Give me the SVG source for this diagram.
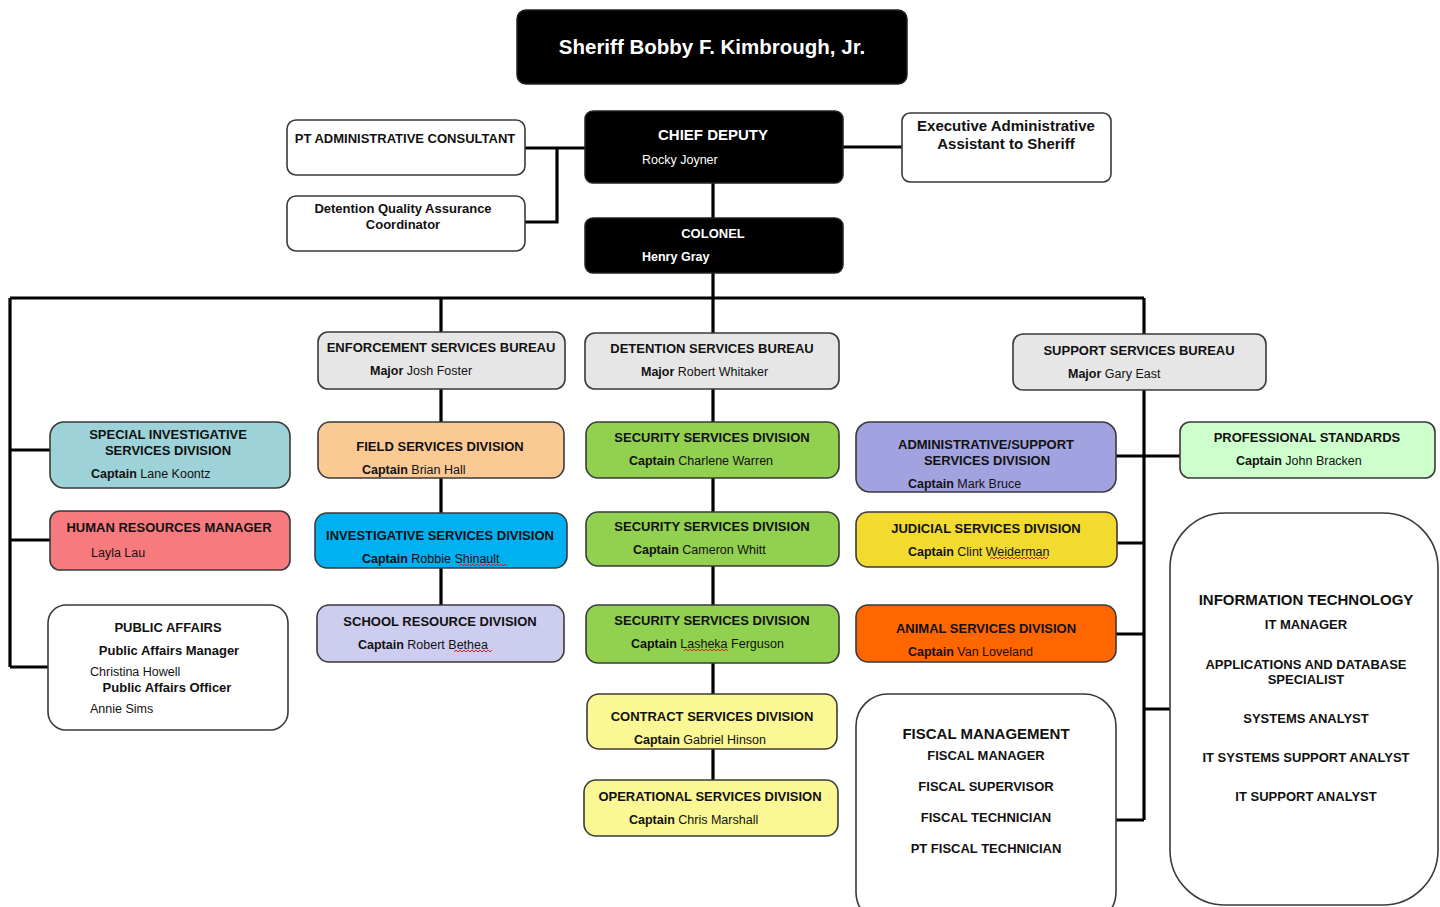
<svg xmlns="http://www.w3.org/2000/svg" width="1440" height="907" viewBox="0 0 1440 907">
<style>
text{font-family:"Liberation Sans",Arial,sans-serif;fill:#111}
.t{font-weight:bold;font-size:13px;text-anchor:middle}
.big{font-size:15px}
.n{font-size:12.5px}
.b{font-weight:bold}
.w{fill:#fff}
.box{stroke:#3a3a3a;stroke-width:1.6}
.blk{fill:#000;stroke:#222;stroke-width:1.5}
.wire{fill:none;stroke:#000;stroke-width:3.2}
.sq{fill:none;stroke:#e02020;stroke-width:1}
</style>
<g id="connectors" class="wire">
<path d="M525 148H585M557 148V222H525"/>
<path d="M843 147H902"/>
<path d="M713 183V218"/>
<path d="M713 273V298"/>
<path d="M10 298H1144"/>
<path d="M10 298V667M10 450H50M10 540H50M10 667H48"/>
<path d="M441 298V332M441 389V422M441 478V513M441 568V605"/>
<path d="M713 298V333M713 389V422M713 478V512M713 566V605M713 663V694M713 749V780"/>
<path d="M1144 298V334M1144 390V820"/>
<path d="M1116 456H1180M1117 543H1144M1116 634H1144M1144 709H1170M1116 820H1144"/>
</g>
<g id="sheriff"><rect x="517" y="10" width="390" height="74" rx="9" class="blk"/><text x="712" y="54" class="b w" font-size="20.5" text-anchor="middle">Sheriff Bobby F. Kimbrough, Jr.</text></g>
<g id="chief-deputy"><rect x="585" y="111" width="258" height="72" rx="8" class="blk"/><text x="713" y="140" class="t big w">CHIEF DEPUTY</text><text x="642" y="164" class="n w">Rocky Joyner</text></g>
<g id="pt-admin"><rect x="287" y="120" width="238" height="55" rx="9" fill="#fff" class="box"/><text x="405" y="143" class="t">PT ADMINISTRATIVE CONSULTANT</text></g>
<g id="dqa"><rect x="287" y="196" width="238" height="55" rx="9" fill="#fff" class="box"/><text x="403" y="213" class="t">Detention Quality Assurance</text><text x="403" y="229" class="t">Coordinator</text></g>
<g id="exec-admin"><rect x="902" y="113" width="209" height="69" rx="8" fill="#fff" class="box"/><text x="1006" y="131" class="t big">Executive Administrative</text><text x="1006" y="149" class="t big">Assistant to Sheriff</text></g>
<g id="colonel"><rect x="585" y="218" width="258" height="55" rx="8" class="blk"/><text x="713" y="238" class="t w">COLONEL</text><text x="642" y="261" class="n b w">Henry Gray</text></g>

<g id="enforcement"><rect x="318" y="332" width="247" height="57" rx="10" fill="#e6e6e6" class="box"/><text x="441" y="352" class="t">ENFORCEMENT SERVICES BUREAU</text><text x="370" y="375" class="n"><tspan class="b">Major</tspan> Josh Foster</text></g>
<g id="detention"><rect x="585" y="333" width="254" height="56" rx="10" fill="#e6e6e6" class="box"/><text x="712" y="353" class="t">DETENTION SERVICES BUREAU</text><text x="641" y="376" class="n"><tspan class="b">Major</tspan> Robert Whitaker</text></g>
<g id="support"><rect x="1013" y="334" width="253" height="56" rx="10" fill="#e6e6e6" class="box"/><text x="1139" y="355" class="t">SUPPORT SERVICES BUREAU</text><text x="1068" y="378" class="n"><tspan class="b">Major</tspan> Gary East</text></g>

<g id="special-inv"><rect x="50" y="422" width="240" height="66" rx="14" fill="#9dd2d8" class="box"/><text x="168" y="439" class="t">SPECIAL INVESTIGATIVE</text><text x="168" y="455" class="t">SERVICES DIVISION</text><text x="91" y="478" class="n"><tspan class="b">Captain</tspan> Lane Koontz</text></g>
<g id="hr"><rect x="50" y="511" width="240" height="59" rx="10" fill="#f77b7e" class="box"/><text x="169" y="532" class="t">HUMAN RESOURCES MANAGER</text><text x="91" y="557" class="n">Layla Lau</text></g>
<g id="public-affairs"><rect x="48" y="605" width="240" height="125" rx="18" fill="#fff" class="box"/><text x="168" y="632" class="t">PUBLIC AFFAIRS</text><text x="169" y="655" class="t">Public Affairs Manager</text><text x="90" y="676" class="n">Christina Howell</text><text x="167" y="692" class="t">Public Affairs Officer</text><text x="90" y="713" class="n">Annie Sims</text></g>

<g id="field"><rect x="318" y="422" width="246" height="56" rx="12" fill="#fbc994" class="box"/><text x="440" y="451" class="t">FIELD SERVICES DIVISION</text><text x="362" y="474" class="n"><tspan class="b">Captain</tspan> Brian Hall</text></g>
<g id="investigative"><rect x="315" y="513" width="252" height="55" rx="12" fill="#00b0f0" class="box"/><text x="440" y="540" class="t">INVESTIGATIVE SERVICES DIVISION</text><text x="362" y="563" class="n"><tspan class="b">Captain</tspan> Robbie Shinault</text><path class="sq" d="M459 566l2-2 2 2 2-2 2 2 2-2 2 2 2-2 2 2 2-2 2 2 2-2 2 2 2-2 2 2 2-2 2 2 2-2 2 2 2-2 2 2 2-2 2 2 2-2 2 2"/></g>
<g id="school"><rect x="317" y="605" width="247" height="57" rx="12" fill="#cdcdf0" class="box"/><text x="440" y="626" class="t">SCHOOL RESOURCE DIVISION</text><text x="358" y="649" class="n"><tspan class="b">Captain</tspan> Robert Bethea</text><path class="sq" d="M454 652l2-2 2 2 2-2 2 2 2-2 2 2 2-2 2 2 2-2 2 2 2-2 2 2 2-2 2 2 2-2 2 2 2-2 2 2 2-2"/></g>

<g id="security1"><rect x="586" y="422" width="253" height="56" rx="12" fill="#92d050" class="box"/><text x="712" y="442" class="t">SECURITY SERVICES DIVISION</text><text x="629" y="465" class="n"><tspan class="b">Captain</tspan> Charlene Warren</text></g>
<g id="security2"><rect x="586" y="512" width="253" height="54" rx="12" fill="#92d050" class="box"/><text x="712" y="531" class="t">SECURITY SERVICES DIVISION</text><text x="633" y="554" class="n"><tspan class="b">Captain</tspan> Cameron Whitt</text></g>
<g id="security3"><rect x="586" y="605" width="253" height="58" rx="12" fill="#92d050" class="box"/><text x="712" y="625" class="t">SECURITY SERVICES DIVISION</text><text x="631" y="648" class="n"><tspan class="b">Captain</tspan> Lasheka Ferguson</text><path class="sq" d="M684 651l2-2 2 2 2-2 2 2 2-2 2 2 2-2 2 2 2-2 2 2 2-2 2 2 2-2 2 2 2-2 2 2 2-2 2 2 2-2 2 2 2-2 2 2"/></g>
<g id="contract"><rect x="587" y="694" width="250" height="55" rx="12" fill="#fbf794" class="box"/><text x="712" y="721" class="t">CONTRACT SERVICES DIVISION</text><text x="634" y="744" class="n"><tspan class="b">Captain</tspan> Gabriel Hinson</text></g>
<g id="operational"><rect x="584" y="780" width="254" height="56" rx="12" fill="#fbf794" class="box"/><text x="710" y="801" class="t">OPERATIONAL SERVICES DIVISION</text><text x="629" y="824" class="n"><tspan class="b">Captain</tspan> Chris Marshall</text></g>

<g id="admin-support"><rect x="856" y="422" width="260" height="70" rx="14" fill="#a2a2e0" class="box"/><text x="986" y="449" class="t">ADMINISTRATIVE/SUPPORT</text><text x="987" y="465" class="t">SERVICES DIVISION</text><text x="908" y="488" class="n"><tspan class="b">Captain</tspan> Mark Bruce</text></g>
<g id="professional"><rect x="1180" y="422" width="255" height="56" rx="10" fill="#ccffcc" class="box"/><text x="1307" y="442" class="t">PROFESSIONAL STANDARDS</text><text x="1236" y="465" class="n"><tspan class="b">Captain</tspan> John Bracken</text></g>
<g id="judicial"><rect x="856" y="512" width="261" height="55" rx="12" fill="#f2da2f" class="box"/><text x="986" y="533" class="t">JUDICIAL SERVICES DIVISION</text><text x="908" y="556" class="n"><tspan class="b">Captain</tspan> Clint Weiderman</text><path class="sq" d="M990 559l2-2 2 2 2-2 2 2 2-2 2 2 2-2 2 2 2-2 2 2 2-2 2 2 2-2 2 2 2-2 2 2 2-2 2 2 2-2 2 2 2-2 2 2 2-2 2 2 2-2 2 2 2-2 2 2 2-2"/></g>
<g id="animal"><rect x="856" y="605" width="260" height="57" rx="12" fill="#ff6600" class="box"/><text x="986" y="633" class="t">ANIMAL SERVICES DIVISION</text><text x="908" y="656" class="n"><tspan class="b">Captain</tspan> Van Loveland</text></g>
<g id="fiscal"><rect x="856" y="694" width="260" height="230" rx="32" fill="#fff" class="box"/><text x="986" y="739" class="t big">FISCAL MANAGEMENT</text><text x="986" y="760" class="t">FISCAL MANAGER</text><text x="986" y="791" class="t">FISCAL SUPERVISOR</text><text x="986" y="822" class="t">FISCAL TECHNICIAN</text><text x="986" y="853" class="t">PT FISCAL TECHNICIAN</text></g>
<g id="it"><rect x="1170" y="513" width="268" height="392" rx="55" fill="#fff" class="box"/><text x="1306" y="605" class="t big">INFORMATION TECHNOLOGY</text><text x="1306" y="629" class="t">IT MANAGER</text><text x="1306" y="669" class="t">APPLICATIONS AND DATABASE</text><text x="1306" y="684" class="t">SPECIALIST</text><text x="1306" y="723" class="t">SYSTEMS ANALYST</text><text x="1306" y="762" class="t">IT SYSTEMS SUPPORT ANALYST</text><text x="1306" y="801" class="t">IT SUPPORT ANALYST</text></g>
</svg>
